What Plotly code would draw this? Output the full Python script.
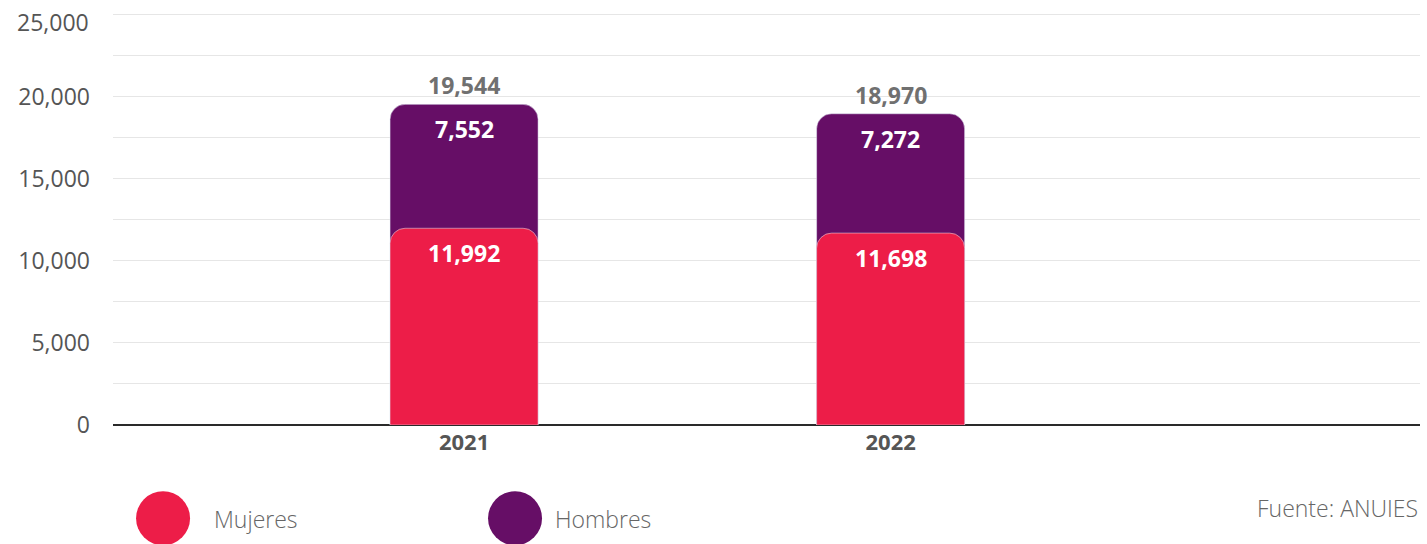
import plotly.graph_objects as go

# Data
years = ["2021", "2022"]
mujeres = [11992, 11698]
hombres = [7552, 7272]
series_names = ["Mujeres", "Hombres"]
y_ticks = [0, 5000, 10000, 15000, 20000, 25000]
y_minor_grid = [2500, 7500, 12500, 17500, 22500]
source_text = "Fuente: ANUIES"

totals = [m + h for m, h in zip(mujeres, hombres)]

RED = "#ED1D48"
PURPLE = "#660E66"
FONT = "Open Sans, Noto Sans, sans-serif"
X_RANGE = [-0.823, 2.241]

fig = go.Figure()

# Hombres drawn as the full stack behind; Mujeres on a twin x axis in front,
# so each column keeps its own rounded top
fig.add_trace(go.Bar(
    x=years, y=totals, name=series_names[1], marker_color=PURPLE,
    width=0.347, showlegend=False, hoverinfo="skip", xaxis="x",
))
fig.add_trace(go.Bar(
    x=years, y=mujeres, name=series_names[0], marker_color=RED,
    width=0.347, showlegend=False, hoverinfo="skip", xaxis="x2",
))

annotations = []
for i, (m, h, t) in enumerate(zip(mujeres, hombres, totals)):
    annotations.append(dict(x=i, y=t, xref="x", yref="y", text=f"<b>{t:,}</b>",
                            showarrow=False, yanchor="middle", yshift=19,
                            font=dict(family=FONT, size=23, color="#707070")))
    annotations.append(dict(x=i, y=t, xref="x", yref="y", text=f"<b>{h:,}</b>",
                            showarrow=False, yanchor="middle", yshift=-25,
                            font=dict(family=FONT, size=23, color="white")))
    annotations.append(dict(x=i, y=m, xref="x", yref="y", text=f"<b>{m:,}</b>",
                            showarrow=False, yanchor="middle", yshift=-25,
                            font=dict(family=FONT, size=23, color="white")))

# Top y label sits just under its gridline so it stays inside the page
top_tick = y_ticks[-1]
annotations.append(dict(xref="paper", yref="y", x=0, y=top_tick, text=f"{top_tick:,}",
                        showarrow=False, xanchor="right", yanchor="middle",
                        xshift=-22, yshift=-7,
                        font=dict(family=FONT, size=23, color="#555555")))

# Legend: large dots with labels below the plot
legend_items = [(series_names[0], RED, 0.0383, 0.0757),
                (series_names[1], PURPLE, 0.3076, 0.3366)]
shapes = []
for name, color, cx, tx in legend_items:
    shapes.append(dict(type="circle", xref="paper", yref="paper",
                       xsizemode="pixel", ysizemode="pixel",
                       xanchor=cx, yanchor=-0.222,
                       x0=-27, x1=27, y0=-27, y1=27,
                       fillcolor=color, line=dict(width=0), layer="above"))
    annotations.append(dict(xref="paper", yref="paper", x=tx, y=-0.224,
                            xanchor="left", yanchor="middle", text=name,
                            showarrow=False,
                            font=dict(family=FONT, size=23, color="#666666", weight=300)))

annotations.append(dict(xref="paper", yref="paper", x=1.0, y=-0.197,
                        xanchor="right", yanchor="middle", text=source_text,
                        showarrow=False,
                        font=dict(family=FONT, size=23, color="#666666", weight=300)))

fig.update_layout(
    width=1427, height=544,
    margin=dict(l=113, r=7, t=5, b=119, autoexpand=False),
    paper_bgcolor="white", plot_bgcolor="white",
    barmode="overlay", barcornerradius=15,
    showlegend=False,
    annotations=annotations, shapes=shapes,
    font=dict(family=FONT),
    xaxis=dict(
        type="category", range=X_RANGE, automargin=False,
        showgrid=False, showline=False, ticks="",
        tickfont=dict(family=FONT, size=22, color="#555555", weight="bold"),
        ticklabelstandoff=2,
    ),
    xaxis2=dict(
        type="category", range=X_RANGE, overlaying="x", matches="x",
        showgrid=False, showline=False, ticks="", showticklabels=False,
    ),
    yaxis=dict(
        range=[0, 25600], tickvals=y_ticks[:-1], tickformat=",", automargin=False,
        showgrid=True, gridcolor="#E6E6E6", gridwidth=1,
        minor=dict(tickvals=y_minor_grid + [top_tick],
                   showgrid=True, gridcolor="#E6E6E6", gridwidth=1),
        zeroline=True, zerolinecolor="#2A2A2A", zerolinewidth=1.5,
        showline=False, ticks="",
        tickfont=dict(family=FONT, size=23, color="#555555"),
        ticklabelstandoff=22,
    ),
)

fig.write_html("out.html")
